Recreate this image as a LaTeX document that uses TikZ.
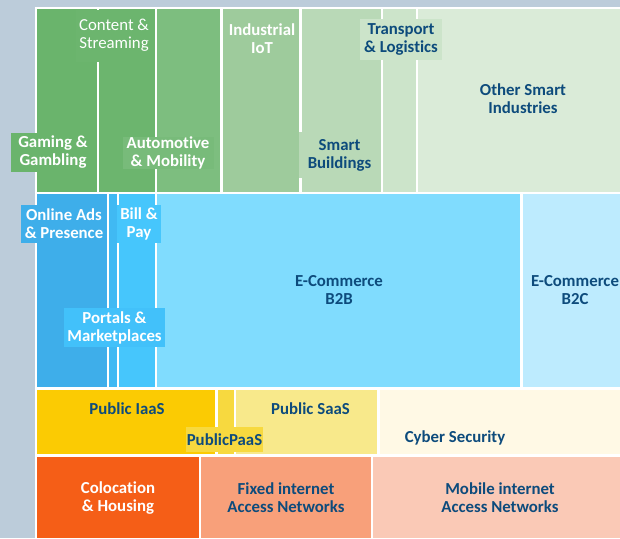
\documentclass[tikz,border=0pt]{standalone}
\usepackage{fontspec}
\setmainfont{Carlito}[Ligatures={NoCommon}]
\definecolor{bgc}{HTML}{BCCCDA}
\definecolor{dk}{HTML}{0D4B7C}
\definecolor{cGam}{HTML}{6AB46C}
\definecolor{cCon}{HTML}{6CB56E}
\definecolor{cAut}{HTML}{7DBE7F}
\definecolor{cAutL}{HTML}{78BB7A}
\definecolor{cInd}{HTML}{9ECB9C}
\definecolor{cSmb}{HTML}{B9D9B7}
\definecolor{cTra}{HTML}{CCE4CA}
\definecolor{cOth}{HTML}{DAEBD8}
\definecolor{cOnl}{HTML}{3EAEEA}
\definecolor{cPor}{HTML}{40B9F3}
\definecolor{cPorL}{HTML}{42C1FA}
\definecolor{cBil}{HTML}{46C6FC}
\definecolor{cBtb}{HTML}{80DCFE}
\definecolor{cBtc}{HTML}{BDEBFE}
\definecolor{cIaa}{HTML}{FBCB03}
\definecolor{cPaa}{HTML}{F7D93F}
\definecolor{cSaa}{HTML}{F8E98B}
\definecolor{cCyb}{HTML}{FFF9E5}
\definecolor{cCol}{HTML}{F55E17}
\definecolor{cFix}{HTML}{F8A07A}
\definecolor{cMob}{HTML}{FAC9B6}
\tikzset{
  lab/.style={align=center, inner sep=0pt, text=dk,
    font=\fontsize{16.8}{18}\selectfont\bfseries},
  wlab/.style={lab, text=white},
  boxlab/.style n args={3}{fill=#1, minimum width=#2, minimum height=#3}
}
\begin{document}
\begin{tikzpicture}[x=1pt,y=-1pt]
\useasboundingbox (0,0) rectangle (620,538);
\fill[bgc] (0,0) rectangle (620,538);
\fill[white] (35,7) rectangle (620,538);
% row 1
\fill[cGam] (37,9) rectangle (97,192);
\fill[cCon] (99,9) rectangle (155,192);
\fill[cAut] (157,9) rectangle (220,192);
\fill[cInd] (223,9) rectangle (299,192);
\fill[cSmb] (302,9) rectangle (381,192);
\fill[cTra] (383,9) rectangle (416,192);
\fill[cOth] (418,9) rectangle (620,192);
% row 2
\fill[cOnl] (37,194) rectangle (107,387);
\fill[cPor] (109,194) rectangle (117,387);
\fill[cBil] (119,194) rectangle (155,387);
\fill[cBtb] (157,194) rectangle (520,387);
\fill[cBtc] (523,194) rectangle (620,387);
% row 3
\fill[cIaa] (37,390) rectangle (215,454);
\fill[cPaa] (218,390) rectangle (234,454);
\fill[cSaa] (236,390) rectangle (377,454);
\fill[cCyb] (380,390) rectangle (620,454);
% row 4
\fill[cCol] (37,457) rectangle (199,538);
\fill[cFix] (201,457) rectangle (371,538);
\fill[cMob] (373,457) rectangle (620,538);
% labels
\node[wlab, boxlab={cGam}{84pt}{39pt}] (gam) at (53,152.5) {Gaming \&\\Gambling};
\node[wlab, font=\fontsize{16.8}{18}\selectfont, boxlab={cCon}{76pt}{52pt}] (con) at (114,35.5) {Content \&\\Streaming};
\node[wlab, boxlab={cAutL}{91pt}{31pt}] (aut) at (168,153) {Automotive\\\& Mobility};
\node[wlab] (ind) at (262,38.5) {Industrial\\IoT};
\node[lab, boxlab={cSmb}{81pt}{46pt}] (smb) at (339.5,155) {Smart\\Buildings};
\node[lab, boxlab={cTra}{82pt}{41pt}] (tra) at (401,39.5) {Transport\\\& Logistics};
\node[lab] (oth) at (523,99) {Other Smart\\Industries};
\node[wlab, boxlab={cOnl}{86pt}{38pt}] (onl) at (64,224) {Online Ads\\\& Presence};
\node[wlab, boxlab={cBil}{44pt}{38pt}] (bil) at (139,224) {Bill \&\\Pay};
\node[wlab, boxlab={cPorL}{101pt}{39pt}] (por) at (114.5,327.5) {Portals \&\\Marketplaces};
\node[lab] (btb) at (339,290) {E-Commerce\\B2B};
\node[lab] (btc) at (575,290) {E-Commerce\\B2C};
\node[lab] (iaa) at (127,409) {Public IaaS};
\node[lab, boxlab={cPaa}{77pt}{25pt}] (paa) at (224.5,439.5) {PublicPaaS};
\node[lab] (saa) at (310.5,409) {Public SaaS};
\node[lab] (cyb) at (455,438) {Cyber Security};
\node[wlab] (col) at (118,498) {Colocation\\\& Housing};
\node[lab] (fix) at (286,498) {Fixed internet\\Access Networks};
\node[lab] (mob) at (500,498) {Mobile internet\\Access Networks};
\end{tikzpicture}
\end{document}
